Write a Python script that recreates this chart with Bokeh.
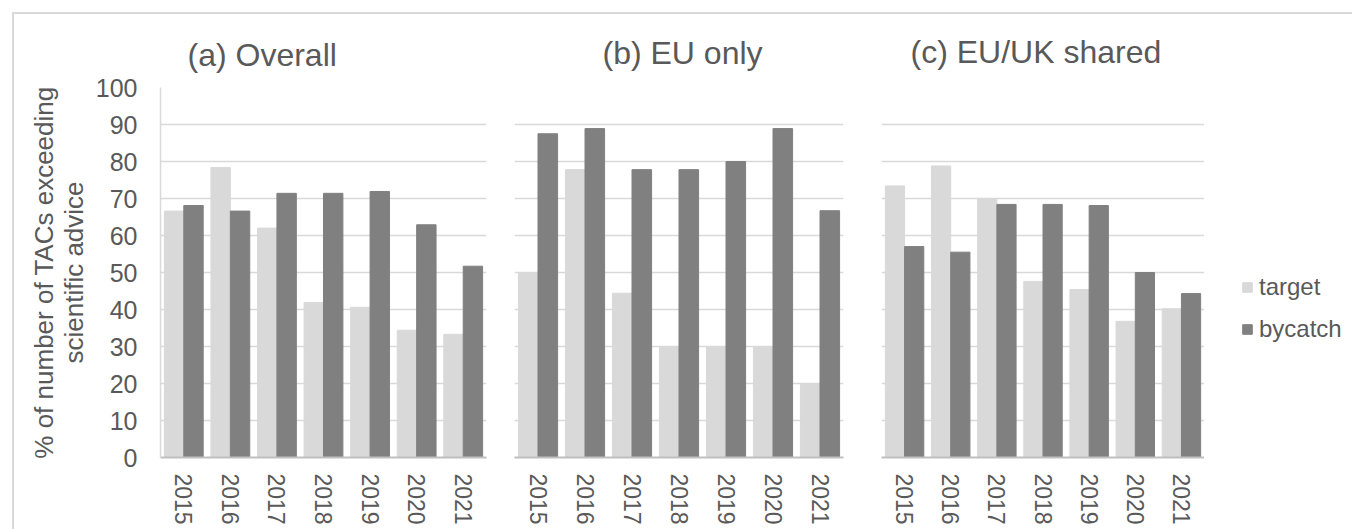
from bokeh.plotting import figure
from bokeh.models import (FactorRange, Range1d, FixedTicker, Legend, LegendItem,
                          ColumnDataSource)
from bokeh.transform import dodge
from bokeh.layouts import row
from bokeh.embed import file_html
from bokeh.resources import INLINE

# ---------------- data ----------------
years = ["2015", "2016", "2017", "2018", "2019", "2020", "2021"]
y_ticks = [0, 10, 20, 30, 40, 50, 60, 70, 80, 90, 100]

overall_target = [66.6, 78.4, 62.0, 41.9, 40.6, 34.4, 33.3]
overall_bycatch = [68.1, 66.6, 71.4, 71.4, 71.9, 62.9, 51.7]

eu_target = [50.0, 77.8, 44.4, 30.0, 30.0, 30.0, 20.0]
eu_bycatch = [87.5, 88.9, 77.8, 77.8, 80.0, 88.9, 66.7]

shared_target = [73.4, 78.8, 70.0, 47.6, 45.4, 36.8, 40.2]
shared_bycatch = [57.0, 55.5, 68.4, 68.4, 68.1, 50.0, 44.3]

titles = ["(a) Overall", "(b) EU only", "(c) EU/UK shared"]
series_names = ["target", "bycatch"]
y_title = "% of number of TACs exceeding\nscientific advice"

# ---------------- style ----------------
FONT = "Liberation Sans"
TXT = "#595959"
C_TARGET = "#d9d9d9"
C_BYCATCH = "#808080"
GRID = "#d9d9d9"
AXIS = "#bfbfbf"
BAR_W = 1 / 2.4
FRAME_H = 370
TOP = 71
BOTTOM = 74


def add_bars(p, src):
    r1 = p.vbar(x=dodge("year", -BAR_W / 2, range=p.x_range), top="target", width=BAR_W,
                source=src, fill_color=C_TARGET, line_color=C_TARGET)
    r2 = p.vbar(x=dodge("year", BAR_W / 2, range=p.x_range), top="bycatch", width=BAR_W,
                source=src, fill_color=C_BYCATCH, line_color=C_BYCATCH)
    return r1, r2


def make_panel(title, src, frame_w, bl, br, t_offset, t_standoff, show_y):
    p = figure(x_range=FactorRange(factors=years), y_range=Range1d(0, 100),
               frame_width=frame_w, frame_height=FRAME_H,
               output_backend="svg", toolbar_location=None,
               min_border_left=bl, min_border_right=br, min_border_top=TOP,
               min_border_bottom=BOTTOM)
    p.outline_line_color = None
    p.background_fill_color = "white"
    p.border_fill_color = "white"

    add_bars(p, src)

    p.title.text = title
    p.title.align = "left"
    p.title.offset = t_offset
    p.title.standoff = t_standoff
    p.title.text_font = FONT
    p.title.text_font_size = "32px"
    p.title.text_font_style = "normal"
    p.title.text_color = TXT

    p.xgrid.visible = False
    p.ygrid.ticker = FixedTicker(ticks=y_ticks)
    p.ygrid.grid_line_color = GRID
    p.ygrid.grid_line_width = 1.5

    xa = p.xaxis[0]
    xa.axis_line_color = AXIS
    xa.axis_line_width = 2
    xa.major_tick_line_color = None
    xa.minor_tick_line_color = None
    xa.major_tick_out = 0
    xa.major_tick_in = 0
    xa.major_label_orientation = "vertical"
    xa.major_label_standoff = 16
    xa.major_label_text_font = FONT
    xa.major_label_text_font_size = "23px"
    xa.major_label_text_color = TXT

    ya = p.yaxis[0]
    if show_y:
        ya.ticker = FixedTicker(ticks=y_ticks)
        ya.axis_line_color = GRID
        ya.axis_line_width = 1.5
        ya.major_tick_line_color = None
        ya.minor_tick_line_color = None
        ya.major_tick_out = 0
        ya.major_tick_in = 0
        ya.major_label_standoff = 23
        ya.major_label_text_font = FONT
        ya.major_label_text_font_size = "25px"
        ya.major_label_text_color = TXT
        ya.axis_label = y_title
        ya.axis_label_text_font = FONT
        ya.axis_label_text_font_size = "26px"
        ya.axis_label_text_font_style = "normal"
        ya.axis_label_text_color = TXT
        ya.axis_label_text_line_height = 1.0
        ya.axis_label_standoff = 4
    else:
        ya.visible = False
    return p


src_a = ColumnDataSource(dict(year=years, target=overall_target, bycatch=overall_bycatch))
src_b = ColumnDataSource(dict(year=years, target=eu_target, bycatch=eu_bycatch))
src_c = ColumnDataSource(dict(year=years, target=shared_target, bycatch=shared_bycatch))

pa = make_panel(titles[0], src_a, 326, 146, 18, 27, 29, True)
pb = make_panel(titles[1], src_b, 329, 10, 15, 88, 33, False)
pc = make_panel(titles[2], src_c, 323, 23, 0, 29, 35, False)

# legend panel (its renderers are hidden copies of panel (c)'s bars)
pd = figure(x_range=FactorRange(factors=years), y_range=Range1d(0, 100),
            frame_width=148, frame_height=FRAME_H, output_backend="svg",
            toolbar_location=None, x_axis_type=None, y_axis_type=None,
            min_border_left=0, min_border_right=0, min_border_top=TOP,
            min_border_bottom=BOTTOM)
pd.outline_line_color = None
pd.xgrid.visible = False
pd.ygrid.visible = False
lt, lb = add_bars(pd, src_c)
lt.visible = False
lb.visible = False
legend = Legend(items=[LegendItem(label=series_names[0], renderers=[lt]),
                       LegendItem(label=series_names[1], renderers=[lb])],
                location=(37, 113), orientation="vertical",
                glyph_width=12, glyph_height=12, label_height=30, spacing=12,
                label_standoff=6, padding=0, margin=0,
                label_text_font=FONT, label_text_font_size="24px", label_text_color=TXT,
                border_line_color=None, background_fill_alpha=0,
                inactive_fill_alpha=0)
pd.add_layout(legend, "center")

layout = row(pa, pb, pc, pd, styles={"margin-left": "12px", "margin-top": "12px",
                                     "border-left": "2px solid #d9d9d9",
                                     "border-top": "2px solid #d9d9d9"})

open("out.html", "w").write(file_html(layout, INLINE))
